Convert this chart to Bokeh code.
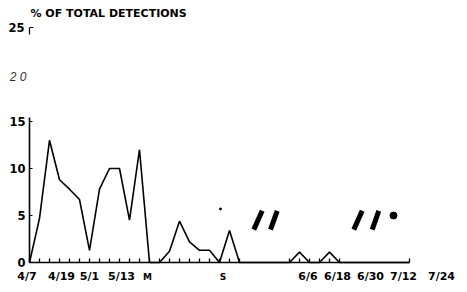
from bokeh.plotting import figure
from bokeh.models import Range1d, LinearAxis, FixedTicker
from bokeh.core.properties import value
from bokeh.embed import file_html
from bokeh.resources import INLINE

# ---- data (x = sampling step index, y = % of total detections) ----
step = list(range(0, 22)) + [26, 27, 28, 29, 30, 31, 38]
pct = [0, 4.7, 13.0, 8.8, 7.8, 6.7, 1.3, 7.8, 10.0, 10.0, 4.5, 12.0, 0,
       0, 1.2, 4.4, 2.2, 1.3, 1.3, 0, 3.4, 0,
       0, 1.1, 0, 0, 1.1, 0, 0]

date_labels = ["4/7", "4/19", "5/1", "5/13", "6/6", "6/18", "6/30", "7/12", "7/24"]
date_label_pos = [-0.25, 3.2, 6.0, 9.2, 27.85, 30.8, 34.1, 37.4, 41.2]
event_labels = ["M", "S"]
event_label_pos = [11.8, 19.35]

y_ticks = [0, 5, 10, 15]
y_top_tick = [25]
y_faint_tick = [20]
y_faint_label = ["2 0"]

title_text = "% OF TOTAL DETECTIONS"

# axis break marks ("//") and stray dots from the original figure
brk_x0 = [22.43, 24.10, 32.43, 34.27]
brk_y0 = [3.5, 3.5, 3.5, 3.5]
brk_x1 = [23.27, 24.77, 33.27, 34.93]
brk_y1 = [5.5, 5.5, 5.5, 5.5]
dot_x = [36.4, 19.1]
dot_y = [5.0, 5.7]
dot_size = [7, 2]

FONT = "DejaVu Sans"
LFONT = "Liberation Sans"

p = figure(width=467, height=292, output_backend="svg", toolbar_location=None,
           x_range=Range1d(-2.9, 43.8), y_range=Range1d(-3.19, 27.87),
           x_axis_type=None, y_axis_type=None, min_border=0)
p.outline_line_color = None
p.background_fill_color = "white"
p.border_fill_color = "white"

# main curve
p.line(step, pct, line_color="black", line_width=1.6)

# x axis: line + small upward ticks
xa = LinearAxis(fixed_location=0, bounds=(0, 38),
                ticker=FixedTicker(ticks=[], minor_ticks=step))
xa.axis_line_color = "black"
xa.axis_line_width = 1.6
xa.minor_tick_line_color = "black"
xa.minor_tick_line_width = 1.3
xa.minor_tick_in = 4
xa.minor_tick_out = 0
xa.major_tick_line_color = None
xa.major_label_text_font_size = "0px"
p.add_layout(xa, "below")

# x axis date labels
xl = LinearAxis(fixed_location=0,
                ticker=FixedTicker(ticks=date_label_pos),
                major_label_overrides={pos: lab for pos, lab in zip(date_label_pos, date_labels)})
xl.axis_line_color = None
xl.major_tick_line_color = None
xl.minor_tick_line_color = None
xl.major_label_standoff = 1
xl.major_label_text_font = FONT
xl.major_label_text_font_style = "bold"
xl.major_label_text_font_size = "11px"
xl.major_label_text_color = "black"
p.add_layout(xl, "below")

# y axis 0-15
ya = LinearAxis(fixed_location=0, bounds=(0, 15.4), ticker=FixedTicker(ticks=y_ticks))
ya.axis_line_color = "black"
ya.axis_line_width = 1.6
ya.major_tick_in = 3
ya.major_tick_out = 0
ya.major_tick_line_color = "black"
ya.minor_tick_line_color = None
ya.major_label_standoff = 4
ya.major_label_text_font = FONT
ya.major_label_text_font_style = "bold"
ya.major_label_text_font_size = "11.5px"
ya.major_label_text_color = "black"
p.add_layout(ya, "left")

# y axis top fragment at 25
yt = LinearAxis(fixed_location=0, bounds=(24.3, 25), ticker=FixedTicker(ticks=y_top_tick))
yt.axis_line_color = "black"
yt.axis_line_width = 1.2
yt.major_tick_in = 4
yt.major_tick_out = 0
yt.major_tick_line_color = "black"
yt.minor_tick_line_color = None
yt.major_label_standoff = 5
yt.major_label_text_font = FONT
yt.major_label_text_font_style = "bold"
yt.major_label_text_font_size = "11.5px"
yt.major_label_text_color = "black"
p.add_layout(yt, "left")

# faint "20" label
p.text(x=[-0.3], y=y_faint_tick, text=y_faint_label, text_align="right",
       text_baseline="middle", y_offset=3, text_font=value(LFONT),
       text_font_style="italic", text_font_size="12px", text_color="#333333")

# event labels M, S
p.text(x=event_label_pos, y=[0, 0], text=event_labels, text_align="center",
       text_baseline="middle", y_offset=14, text_font=value(FONT),
       text_font_style="bold", text_font_size="9px", text_color="black")

# title
p.text(x=[0.1], y=[26.5], text=[title_text], text_align="left",
       text_baseline="middle", text_font=value(FONT), text_font_style="bold",
       text_font_size="11px", text_color="black")

# break marks and dots
p.segment(x0=brk_x0, y0=brk_y0, x1=brk_x1, y1=brk_y1, line_color="black",
          line_width=5, line_cap="butt")
p.scatter(x=dot_x, y=dot_y, size=dot_size, color="black")

open("out.html", "w").write(file_html(p, INLINE))
